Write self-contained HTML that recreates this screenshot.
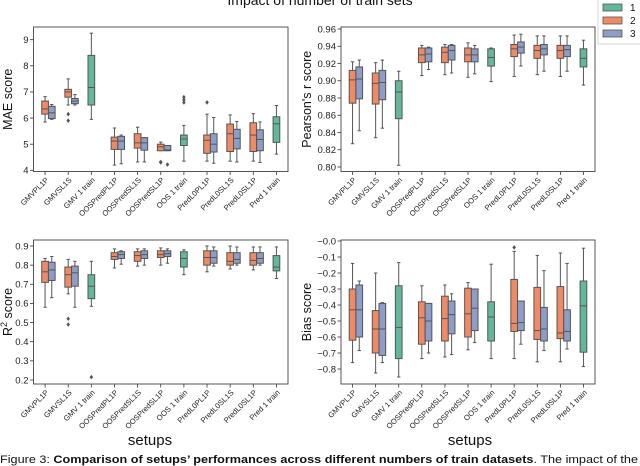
<!DOCTYPE html>
<html><head><meta charset="utf-8"><style>
html,body{margin:0;padding:0;background:#fff;overflow:hidden}
svg{display:block;font-family:"Liberation Sans","DejaVu Sans",sans-serif}
</style></head><body>
<svg id="fig" width="640" height="466" viewBox="0 0 640 466">
<text x="320" y="5" font-size="14" text-anchor="middle" fill="#111">Impact of number of train sets</text>
<g>
<rect x="598" y="-2" width="44" height="46" fill="#fff" stroke="#ccc" stroke-width="0.8"/>
<rect x="603" y="4" width="19" height="7" fill="#63b89c" stroke="#555" stroke-width="0.8"/>
<text x="630" y="11" font-size="10" fill="#111">1</text>
<rect x="603" y="17" width="19" height="7" fill="#f08a65" stroke="#555" stroke-width="0.8"/>
<text x="630" y="24" font-size="10" fill="#111">2</text>
<rect x="603" y="30" width="19" height="7" fill="#8c9dc7" stroke="#555" stroke-width="0.8"/>
<text x="630" y="37" font-size="10" fill="#111">3</text>
</g>
<text x="150" y="445" font-size="15" text-anchor="middle" fill="#111">setups</text>
<text x="470" y="445" font-size="15" text-anchor="middle" fill="#111">setups</text>
<text x="0" y="463" font-size="11" fill="#111" textLength="638" lengthAdjust="spacingAndGlyphs">Figure 3: <tspan font-weight="bold">Comparison of setups’ performances across different numbers of train datasets</tspan>. The impact of the</text>
</svg>
<script>
const categories = ["GMVPL1P","GMVSL1S","GMV 1 train","OOSPredPL1P","OOSPredSL1S","OOSPredSL1P","OOS 1 train","PredL0PL1P","PredL0SL1S","PredL0SL1P","Pred 1 train"];
// each box: [whisker-low, q1, median, q3, whisker-high, outliers...]; null = series absent
const maeS1 = [null,null,[5.95,6.5,7.17,8.4,9.25],null,null,null,[4.35,4.95,5.2,5.35,5.72,6.6,6.7,6.8],null,null,null,[4.62,5.07,5.78,6.05,6.48]];
const maeS2 = [[5.85,6.15,6.35,6.65,6.82],[6.5,6.8,7.0,7.1,7.5,6.15,5.9],null,[4.2,4.8,5.12,5.27,5.62],[4.32,4.85,5.05,5.4,5.65],[4.75,4.75,4.9,5.0,5.08,4.3,4.32],null,[4.35,4.65,5.15,5.35,6.15,6.6],[4.35,4.72,5.4,5.77,6.12],[4.35,4.72,5.35,5.82,6.17],null];
const maeS3 = [[5.95,5.98,6.2,6.45,6.52],[6.5,6.55,6.65,6.75,6.9],null,[4.25,4.8,5.12,5.3,5.35],[4.32,4.77,5.05,5.25,5.25],[4.75,4.75,4.78,4.95,4.95,4.22],null,[4.27,4.7,5.0,5.4,6.02],[4.32,4.82,5.22,5.57,5.87],[4.3,4.75,5.18,5.55,5.85],null];
const prS1 = [null,null,[0.802,0.856,0.887,0.900,0.911],null,null,null,[0.899,0.917,0.927,0.937,0.938],null,null,null,[0.895,0.916,0.926,0.937,0.947]];
const prS2 = [[0.827,0.874,0.901,0.912,0.922],[0.834,0.873,0.897,0.909,0.921],null,[0.906,0.921,0.930,0.938,0.941],[0.907,0.921,0.933,0.939,0.942],[0.904,0.922,0.930,0.938,0.944],null,[0.905,0.928,0.937,0.942,0.953],[0.907,0.926,0.935,0.941,0.952],[0.905,0.926,0.935,0.941,0.952],null];
const prS3 = [[0.842,0.879,0.902,0.916,0.924],[0.845,0.878,0.898,0.912,0.924],null,[0.913,0.922,0.931,0.938,0.939],[0.909,0.924,0.935,0.941,0.942],[0.908,0.922,0.930,0.937,0.941],null,[0.917,0.932,0.939,0.945,0.954],[0.911,0.930,0.937,0.942,0.952],[0.911,0.928,0.936,0.941,0.952],null];
const r2S1 = [null,null,[0.585,0.625,0.69,0.75,0.82,0.215],null,null,null,[0.75,0.79,0.835,0.87,0.88],null,null,null,[0.73,0.77,0.79,0.85,0.895]];
const r2S2 = [[0.58,0.71,0.765,0.82,0.835],[0.65,0.685,0.75,0.79,0.83,0.52,0.49],null,[0.785,0.83,0.845,0.865,0.885],[0.795,0.82,0.85,0.87,0.885],[0.80,0.84,0.855,0.875,0.89],null,[0.765,0.80,0.84,0.875,0.9],[0.78,0.80,0.82,0.865,0.9],[0.775,0.80,0.825,0.865,0.895],null];
const r2S3 = [[0.63,0.72,0.775,0.815,0.845],[0.58,0.69,0.76,0.795,0.82],null,[0.805,0.835,0.855,0.87,0.875],[0.80,0.835,0.855,0.875,0.885],[0.81,0.845,0.86,0.875,0.885],null,[0.795,0.81,0.84,0.875,0.895],[0.80,0.81,0.83,0.865,0.895],[0.80,0.81,0.835,0.865,0.895],null];
const biasS1 = [null,null,[-0.85,-0.735,-0.54,-0.28,-0.135],null,null,null,[-0.735,-0.625,-0.475,-0.38,-0.145],null,null,null,[-0.785,-0.695,-0.405,-0.25,-0.045]];
const biasS2 = [[-0.76,-0.62,-0.43,-0.30,-0.14],[-0.825,-0.70,-0.55,-0.435,-0.20],null,[-0.735,-0.645,-0.48,-0.38,-0.28],[-0.725,-0.625,-0.485,-0.345,-0.275],[-0.68,-0.60,-0.455,-0.295,-0.26],null,[-0.735,-0.565,-0.515,-0.24,-0.065,-0.04],[-0.755,-0.615,-0.56,-0.29,-0.09],[-0.755,-0.61,-0.575,-0.285,-0.075],null];
const biasS3 = [[-0.685,-0.60,-0.43,-0.275,-0.25],[-0.76,-0.715,-0.55,-0.39,-0.385],null,[-0.70,-0.625,-0.50,-0.39,-0.39],[-0.71,-0.58,-0.46,-0.375,-0.33],[-0.635,-0.56,-0.42,-0.30,-0.30],null,[-0.645,-0.56,-0.51,-0.375,-0.375],[-0.685,-0.625,-0.55,-0.415,-0.185],[-0.675,-0.625,-0.565,-0.43,-0.14],null];
const maeTicks = [4,5,6,7,8,9];
const prTicks = [0.80,0.82,0.84,0.86,0.88,0.90,0.92,0.94,0.96];
const r2Ticks = [0.2,0.3,0.4,0.5,0.6,0.7,0.8,0.9];
const biasTicks = [0,-0.1,-0.2,-0.3,-0.4,-0.5,-0.6,-0.7,-0.8];

const NS = "http://www.w3.org/2000/svg";
const svg = document.getElementById("fig");
const colors = ["#63b89c","#f08a65","#8c9dc7"];
function mk(tag, attrs, parent){const e=document.createElementNS(NS,tag);for(const k in attrs)e.setAttribute(k,attrs[k]);(parent||svg).appendChild(e);return e;}

function panel(p){
  const g = mk("g",{});
  
  
  const x0=p.x0,x1=p.x1,y0=p.y0,y1=p.y1;
  const yS = v => p.py0 + (v - p.v0)/(p.v1 - p.v0)*(p.py1 - p.py0);
  const step=(x1-x0)/categories.length;
  const xS = i => x0 + step*(i+0.5);
  const bw = 6.7;
  // y ticks
  p.ticks.forEach((t,i)=>{
    const y=yS(t);
    const l=mk("line",{x1:x0-3.5,x2:x0,y1:y,y2:y,stroke:"#333","stroke-width":0.8},g);
    
    
    const tx=mk("text",{x:x0-5,y:y+3.3,"font-size":9.5,"text-anchor":"end",fill:"#222"},g);
    
    
    tx.textContent=p.fmt(t);
  });
  // x ticks + labels
  categories.forEach((c,i)=>{
    const x=xS(i);
    const l=mk("line",{x1:x,x2:x,y1:y1,y2:y1+3.5,stroke:"#333","stroke-width":0.8},g);
    
    
    const tx=mk("text",{x:x+4,y:y1+9,"font-size":7.6,"text-anchor":"end",fill:"#222",transform:`rotate(-45 ${x+4} ${y1+9})`},g);
    
    
    tx.textContent=c;
  });
  // boxes
  const series=[p.s1,p.s2,p.s3];
  const offs=[0,0,bw];
  series.forEach((arr,si)=>{
    arr.forEach((d,i)=>{
      if(!d) return;
      const cx=xS(i)+offs[si];
      const bg=mk("g",{},g);
      
      
      const lo=yS(d[0]),q1=yS(d[1]),md=yS(d[2]),q3=yS(d[3]),hi=yS(d[4]);
      mk("line",{x1:cx,x2:cx,y1:lo,y2:q1,stroke:"#555","stroke-width":1},bg);
      mk("line",{x1:cx,x2:cx,y1:q3,y2:hi,stroke:"#555","stroke-width":1},bg);
      mk("line",{x1:cx-bw/4,x2:cx+bw/4,y1:lo,y2:lo,stroke:"#555","stroke-width":1},bg);
      mk("line",{x1:cx-bw/4,x2:cx+bw/4,y1:hi,y2:hi,stroke:"#555","stroke-width":1},bg);
      mk("rect",{x:cx-bw/2,y:Math.min(q1,q3),width:bw,height:Math.max(0.5,Math.abs(q1-q3)),fill:colors[si],stroke:"#555","stroke-width":1},bg);
      mk("line",{x1:cx-bw/2,x2:cx+bw/2,y1:md,y2:md,stroke:"#555","stroke-width":1},bg);
      for(let k=5;k<d.length;k++){
        const o=mk("path",{d:`M${cx} ${yS(d[k])-2.3}L${cx+1.8} ${yS(d[k])}L${cx} ${yS(d[k])+2.3}L${cx-1.8} ${yS(d[k])}Z`,fill:"#555"},bg);
        
        
      }
    });
  });
  const fr=mk("rect",{x:x0,y:y0,width:x1-x0,height:y1-y0,fill:"none",stroke:"#444","stroke-width":0.9},g);
  
  
  const yl=mk("text",{x:p.lx,y:(y0+y1)/2,"font-size":12.5,"text-anchor":"middle",fill:"#111",transform:`rotate(-90 ${p.lx} ${(y0+y1)/2})`},g);
  
  
  if(p.label==="R2"){yl.innerHTML='R<tspan dy="-5" font-size="9">2</tspan><tspan dy="5"> score</tspan>';}
  else yl.textContent=p.label;
}
panel({name:"mae-panel",x0:33.5,x1:288,y0:27,y1:171.5,v0:4,v1:9,py0:170.3,py1:39.7,ticks:maeTicks,fmt:t=>String(t),s1:maeS1,s2:maeS2,s3:maeS3,lx:12,label:"MAE score"});
panel({name:"pearson-panel",x0:341,x1:595,y0:27,y1:171.5,v0:0.80,v1:0.96,py0:167,py1:29,ticks:prTicks,fmt:t=>t.toFixed(2),s1:prS1,s2:prS2,s3:prS3,lx:311,label:"Pearson's r score"});
panel({name:"r2-panel",x0:33.5,x1:288,y0:240,y1:384,v0:0.2,v1:0.9,py0:380,py1:246,ticks:r2Ticks,fmt:t=>t.toFixed(1),s1:r2S1,s2:r2S2,s3:r2S3,lx:12,label:"R2"});
panel({name:"bias-panel",x0:341,x1:595,y0:240,y1:384,v0:0,v1:-0.8,py0:241,py1:369,ticks:biasTicks,fmt:t=>(t===0?"−0.0":"−"+Math.abs(t).toFixed(1)),s1:biasS1,s2:biasS2,s3:biasS3,lx:311,label:"Bias score"});
</script>
</body></html>
